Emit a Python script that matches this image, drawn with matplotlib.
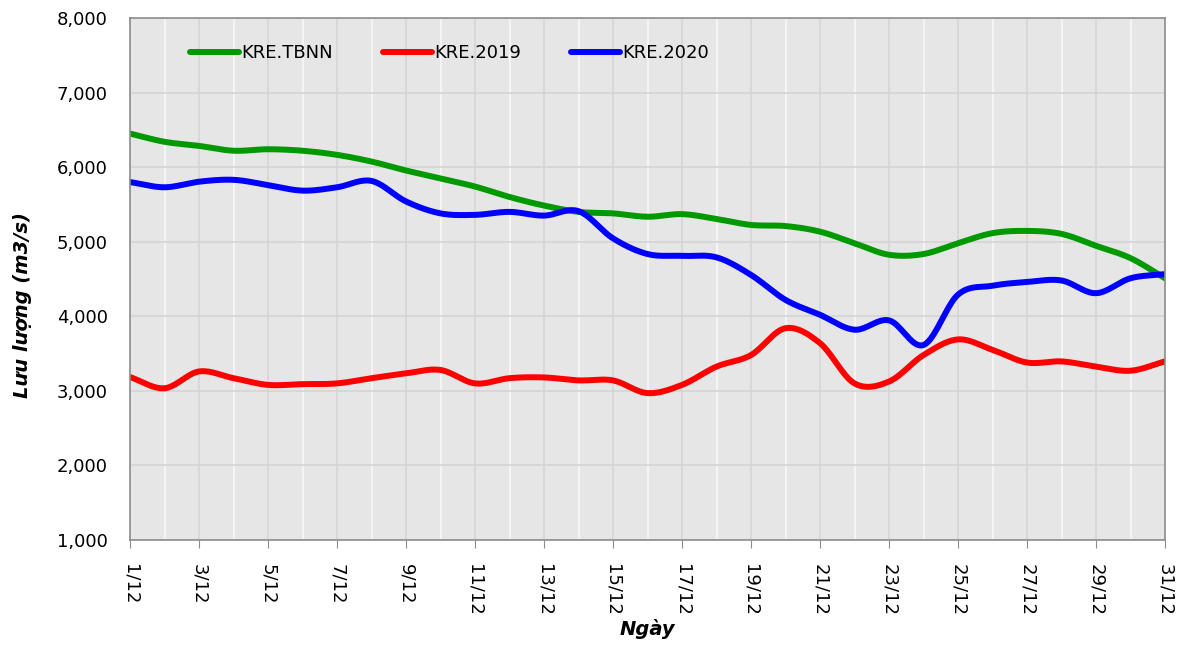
import numpy as np
import matplotlib.pyplot as plt
from matplotlib.ticker import FuncFormatter, MultipleLocator

plt.rcParams['font.family'] = ['DejaVu Sans']
plt.rcParams['font.size'] = 13

days = list(range(1, 32))
day_labels = [f'{d}/12' for d in days]

kre_tbnn = [6450, 6340, 6285, 6220, 6240, 6220, 6165, 6075, 5955, 5850,
            5740, 5600, 5485, 5400, 5380, 5335, 5370, 5305, 5225, 5210,
            5135, 4980, 4825, 4835, 4980, 5115, 5145, 5105, 4945, 4780,
            4510]
kre_2019 = [3185, 3035, 3260, 3170, 3080, 3090, 3100, 3170, 3235, 3280,
            3100, 3170, 3180, 3140, 3140, 2970, 3080, 3325, 3480, 3840,
            3640, 3100, 3125, 3480, 3690, 3550, 3380, 3395, 3325, 3270,
            3395]
kre_2020 = [5800, 5730, 5805, 5830, 5760, 5685, 5730, 5815, 5540, 5380,
            5360, 5400, 5350, 5410, 5045, 4835, 4810, 4790, 4555, 4220,
            4020, 3820, 3945, 3615, 4290, 4410, 4460, 4480, 4310, 4510,
            4565]


def smooth(x, y, n=20):
    # catmull-rom, giong duong cong "smoothed line" cua Excel
    x = np.asarray(x, float)
    y = np.asarray(y, float)
    px = np.concatenate([[2*x[0]-x[1]], x, [2*x[-1]-x[-2]]])
    py = np.concatenate([[2*y[0]-y[1]], y, [2*y[-1]-y[-2]]])
    xs, ys = [], []
    t = np.linspace(0, 1, n, endpoint=False)
    for i in range(1, len(px)-2):
        for p, out in ((px, xs), (py, ys)):
            p0, p1, p2, p3 = p[i-1], p[i], p[i+1], p[i+2]
            out.extend(0.5*((2*p1) + (-p0+p2)*t + (2*p0-5*p1+4*p2-p3)*t**2
                            + (-p0+3*p1-3*p2+p3)*t**3))
    xs.append(x[-1])
    ys.append(y[-1])
    return xs, ys


fig = plt.figure(figsize=(11.84, 6.47), dpi=100)
ax = fig.add_axes([130/1184, 1-540/647, 1035/1184, 522/647])
ax.set_facecolor('#e6e6e6')

for vals, c, lab in ((kre_tbnn, '#009900', 'KRE.TBNN'),
                     (kre_2019, '#ff0000', 'KRE.2019'),
                     (kre_2020, '#0000ff', 'KRE.2020')):
    sx, sy = smooth(days, vals)
    ax.plot(sx, sy, color=c, lw=4.3, label=lab, solid_capstyle='round')

ax.set_xlim(1, 31)
ax.set_ylim(1000, 8000)
ax.set_xticks(days[::2])
ax.set_xticklabels(day_labels[::2], rotation=270)
ax.set_xticks(days[1::2], minor=True)
ax.yaxis.set_major_locator(MultipleLocator(1000))
ax.yaxis.set_major_formatter(FuncFormatter(lambda v, p: f'{v:,.0f}'))

ax.grid(axis='y', color='#d4d4d4', lw=1.2)
ax.grid(axis='x', which='major', color='#d6d6d6', lw=1.2)
ax.grid(axis='x', which='minor', color='#f4f4f4', lw=1.5)
ax.set_axisbelow(True)

for s in ax.spines.values():
    s.set_color('#8c8c8c')
    s.set_linewidth(1.2)
ax.tick_params(axis='x', which='major', length=6, color='#8c8c8c', pad=11)
ax.tick_params(axis='x', which='minor', length=0)
ax.tick_params(axis='y', length=0, pad=16)

ax.set_xlabel('Ngày', fontsize=14, fontweight='bold', fontstyle='italic')
ax.xaxis.set_label_coords(0.5, -0.152)
ax.set_ylabel('Lưu lượng (m3/s)', fontsize=14, fontweight='bold', fontstyle='italic')
ax.yaxis.set_label_coords(-0.095, 0.45)

ax.legend(loc='center left', bbox_to_anchor=(0.058, 0.933), ncol=3,
          frameon=False, borderpad=0, borderaxespad=0, handlelength=2.7,
          handletextpad=0.15, columnspacing=2.75, fontsize=13)

plt.savefig('out.png', dpi=100)
